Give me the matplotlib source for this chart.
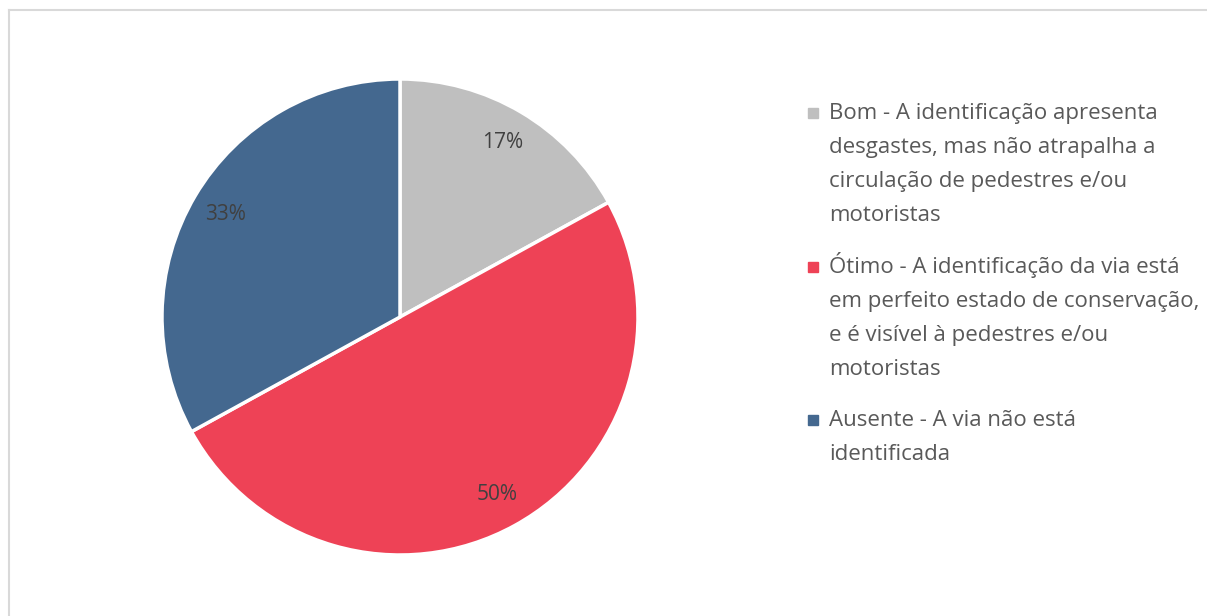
import matplotlib.pyplot as plt
from matplotlib.lines import Line2D

plt.rcParams['font.family'] = ['Open Sans', 'DejaVu Sans']

categories = [
    'Bom - A identificação apresenta\ndesgastes, mas não atrapalha a\ncirculação de pedestres e/ou\nmotoristas',
    'Ótimo - A identificação da via está\nem perfeito estado de conservação,\ne é visível à pedestres e/ou\nmotoristas',
    'Ausente - A via não está\nidentificada',
]
shares = [17, 50, 33]
colors = ['#BFBFBF', '#EE4256', '#44688F']

W, H = 1207, 616
fig = plt.figure(figsize=(W / 100, H / 100), dpi=100)

# light frame around the chart area
frame_color = '#D9D9D9'
fig.add_artist(Line2D([9 / W, 9 / W], [0, 1 - 10 / H], transform=fig.transFigure,
                      color=frame_color, lw=1.5))
fig.add_artist(Line2D([9 / W, 1], [1 - 10 / H, 1 - 10 / H], transform=fig.transFigure,
                      color=frame_color, lw=1.5))

# pie: centre (400, 317) px, radius 238 px
cx, cy, r = 400, 317, 238
ax = fig.add_axes([(cx - r) / W, (H - cy - r) / H, 2 * r / W, 2 * r / H])
wedges, texts, autotexts = ax.pie(
    shares, colors=colors, startangle=90, counterclock=False,
    autopct='%.0f%%', pctdistance=0.85, radius=1,
    wedgeprops=dict(edgecolor='white', linewidth=2.5, clip_on=False),
    textprops=dict(color='#404040', fontsize=15),
)
ax.set_xlim(-1, 1)
ax.set_ylim(-1, 1)
ax.set_aspect('equal')

# legend: wrapped text lines with square markers
first_baselines = [118.5, 272.5, 426]
line_step = 34.2
for label, color, base in zip(categories, colors, first_baselines):
    for i, line in enumerate(label.split('\n')):
        fig.text(829 / W, 1 - (base + i * line_step) / H, line, fontsize=16,
                 color='#595959', va='baseline', ha='left')
    fig.add_artist(Line2D([813.5 / W], [1 - (base - 6) / H], transform=fig.transFigure,
                          marker='s', markersize=7.5, color=color, lw=0))

fig.savefig('out.png', dpi=100)
